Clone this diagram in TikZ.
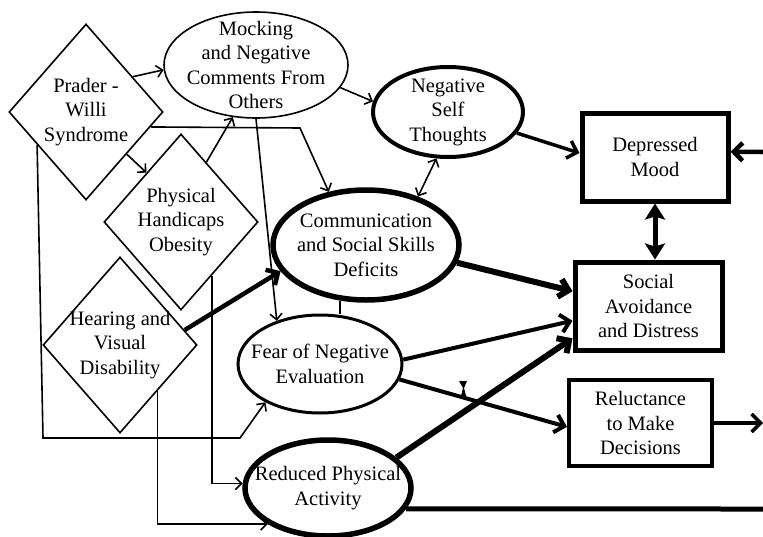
\documentclass[tikz,border=0pt]{standalone}
\usepackage{fontspec}
\setmainfont{Liberation Serif}
\usetikzlibrary{shapes.geometric,arrows.meta,calc}
\begin{document}
\begin{tikzpicture}[x=1pt,y=-1pt,
  txt/.style={font=\fontsize{20.5}{24.5}\selectfont, align=center, inner sep=0pt},
  diam/.style={draw, diamond, line width=1.6pt, inner sep=0pt,
    minimum width=154pt, minimum height=176pt},
  oval/.style={draw, ellipse, inner sep=0pt},
  box/.style={draw, rectangle, inner sep=0pt, txt},
  lnk/.style={line width=1.6pt, -{Straight Barb[length=6pt,width=12pt]}},
  lnkboth/.style={line width=1.6pt, {Straight Barb[length=6pt,width=12pt]}-{Straight Barb[length=6pt,width=12pt]}},
  boldarrow/.style={line width=#1, -{Straight Barb[length=9pt,width=18pt]}},
  dbl/.style={line width=5pt, {Stealth[length=16pt,width=20pt,inset=3pt]}-{Stealth[length=16pt,width=20pt,inset=3pt]}},
]
\useasboundingbox (0,0) rectangle (763,536);

% causes (diamonds)
\node[diam, label={[txt]center:{Prader -\\Willi\\Syndrome}}] (pw) at (86,112) {};
\node[diam, label={[txt]center:{Physical\\Handicaps\\Obesity}}] (phys) at (181,222) {};
\node[diam, label={[txt]center:{Hearing and\\Visual\\Disability}}] (hear) at (120,345) {};

% mediators (ellipses)
\node[oval, line width=1.6pt, minimum width=184pt, minimum height=106pt,
  label={[txt]center:{Mocking\\and Negative\\Comments From\\Others}}] (mock) at (256,65) {};
\node[oval, line width=4pt, minimum width=150pt, minimum height=90pt,
  label={[txt]center:{Negative\\Self\\Thoughts}}] (nst) at (448,112) {};
\node[oval, line width=5.5pt, minimum width=186pt, minimum height=110pt,
  label={[txt]center:{Communication\\and Social Skills\\Deficits}}] (comm) at (366,245) {};
\node[oval, line width=3pt, minimum width=164pt, minimum height=98pt,
  label={[txt]center:{Fear of Negative\\Evaluation}}] (fear) at (320,364) {};
\node[oval, line width=5.5pt, minimum width=166pt, minimum height=96pt,
  label={[txt]center:{Reduced Physical\\Activity}}] (red) at (328,488) {};

% outcomes (boxes)
\node[box, line width=5pt, minimum width=146pt, minimum height=88pt] (dep) at (655,157) {Depressed\\Mood};
\node[box, line width=5pt, minimum width=147pt, minimum height=88pt] (soc) at (648.5,306) {Social\\Avoidance\\and Distress};
\node[box, line width=4pt, minimum width=143pt, minimum height=86pt] (rel) at (640.5,423) {Reluctance\\to Make\\Decisions};

% free ends and bends
\coordinate (b1) at (300,128);
\coordinate (c1) at (43,438);
\coordinate (c2) at (240,438);
\coordinate (depin) at (763,152);
\coordinate (relout) at (763,423);
\coordinate (redout) at (763,509);

% thin links
\draw[lnk] (pw.37.5) -- (mock.183);
\draw[lnk] (pw.-46.4) -- (phys.125.5);
\draw[lnk] (phys.67) -- (mock.246);
\draw[lnk] (pw.-13.6) -- (b1) -- (comm.125);
\draw[lnk] (mock.south) -- (fear.135);
\draw[lnk] (mock.-15.6) -- (nst.172);
\draw[lnkboth] (nst.256.5) -- (comm.43.8);
\draw[lnk] (pw.214) -- (c1) -- (c2) -- (fear.215.3);
\draw[lnk] (phys.-60) |- (red.177);
\draw[lnk] (hear.-51) |- (red.211);
\draw[line width=1.6pt] (comm.245) -- (comm.245 |- fear.north);

% heavy links
\draw[boldarrow=4.5pt] (hear.13.8) -- (comm.197.4);
\draw[boldarrow=3.5pt] (nst.-17.7) -- (dep.177);
\draw[boldarrow=4.5pt] (depin) -- (dep.4);
\draw[dbl] (dep.south) -- (dep.south |- soc.north);
\draw[boldarrow=6pt] (comm.-11.7) -- (soc.169);
\draw[boldarrow=4pt] (fear.3) -- (soc.191.5);
\draw[boldarrow=6pt] (red.24) -- (soc.203.5);
\draw[boldarrow=4pt] (fear.-11.3) -- (rel.183);
\draw[boldarrow=3.5pt] (rel.east) -- (relout);
\draw[line width=5pt] (red.-15.3) -- (redout);

% small mark on the link to reluctance
\fill (459,381) -- (467,381) -- (464,388) -- (466,396) -- (461,396) -- (463,388) -- cycle;
\end{tikzpicture}
\end{document}
